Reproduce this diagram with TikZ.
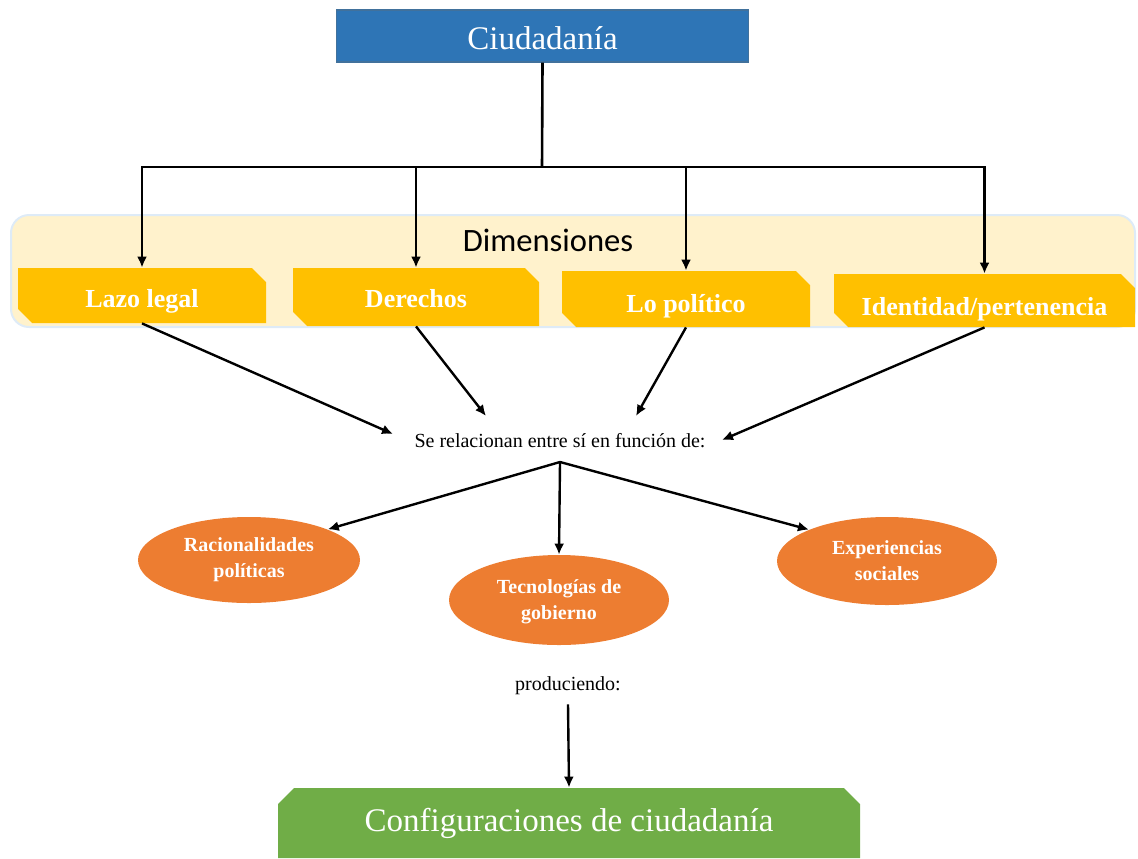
\documentclass[tikz,border=0pt]{standalone}
\usepackage{fontspec}
\setmainfont{Liberation Serif}
\newfontfamily\calib{Carlito}
\usetikzlibrary{shapes.misc,shapes.geometric,arrows.meta}
\definecolor{cblue}{HTML}{2E75B6}
\definecolor{cblueb}{HTML}{41719C}
\definecolor{cyel}{HTML}{FFC000}
\definecolor{cpale}{HTML}{FFF2CC}
\definecolor{cpaleb}{HTML}{DEEBF7}
\definecolor{corange}{HTML}{ED7D31}
\definecolor{cgreen}{HTML}{70AD47}
\begin{document}
\begin{tikzpicture}[x=0.5pt,y=-0.5pt,
  arr/.style={-{Latex[length=5.5pt,width=5pt]}, line width=1.2pt},
  dimbox/.style={chamfered rectangle, chamfered rectangle corners={north east,south west},
    chamfered rectangle xsep=4pt, fill=cyel, text=white, inner sep=0pt, text depth=2pt,
    font=\bfseries\fontsize{13}{15}\selectfont},
  oval/.style={ellipse, fill=corange, text=white, inner sep=0pt, align=center,
    minimum width=111pt, minimum height=43pt, font=\bfseries\fontsize{10}{13}\selectfont},
  plain/.style={font=\fontsize{10}{12}\selectfont, inner sep=1pt}
]
\useasboundingbox (0,0) rectangle (1138,858);
% title
\node[fill=cblue, draw=cblueb, line width=0.6pt, minimum width=206pt, minimum height=26pt,
  inner sep=0pt, text=white, text height=13pt, text depth=0pt,
  font=\fontsize{16.5}{18}\selectfont] (ciud) at (542.5,36) {Ciudadanía};
% background band
\node[fill=cpale, draw=cpaleb, line width=1pt, rounded corners=9pt, minimum width=562pt,
  minimum height=56pt, inner sep=0pt] (band) at (573,271) {};
\node[font=\calib\fontsize{16.3}{18}\selectfont, inner sep=0pt] (dimlab) at (548,240) {Dimensiones};
% dimension boxes
\node[dimbox, text height=14pt, minimum width=124pt, minimum height=27.5pt] (lazo) at (142,295.5) {Lazo legal};
\node[dimbox, text height=12pt, minimum width=123pt, minimum height=29pt] (der) at (416,297) {Derechos};
\node[dimbox, text height=15pt, minimum width=124pt, minimum height=28pt] (pol) at (686,299) {Lo político};
\node[dimbox, text height=17pt, minimum width=150.5pt, minimum height=26.5pt] (ide) at (984.5,300.5) {Identidad/pertenencia};
% tree from title
\coordinate (hub) at (542,167);
\draw[line width=1.3pt] (ciud.south) -- (hub);
\draw[arr] (hub) -| (lazo.north);
\draw[arr] (hub) -| (der.north);
\draw[arr] (hub) -| (pol.north);
\draw[arr] (hub) -| (ide.north);
% relation text
\node[plain] (rel) at (560,441) {Se relacionan entre sí en función de:};
\coordinate (e1) at (393,434);
\coordinate (e2) at (486,416);
\coordinate (e3) at (636,416);
\coordinate (e4) at (722,440);
\draw[arr] (lazo.south) -- (e1);
\draw[arr] (der.south) -- (e2);
\draw[arr] (pol.south) -- (e3);
\draw[arr] (ide.south) -- (e4);
% ellipses
\node[oval] (rac) at (249,560) {Racionalidades\\políticas};
\node[oval, minimum width=110pt, minimum height=45pt, text depth=0pt] (tec) at (559,600) {Tecnologías de\\gobierno};
\node[oval, minimum width=110pt, minimum height=44pt] (exp) at (887,561) {Experiencias\\sociales};
\coordinate (rs) at (560,462);
\draw[arr] (rs) -- (rac.north east);
\draw[arr] (rs) -- (tec.north);
\draw[arr] (rs) -- (exp.north west);
% producing
\node[plain] (prod) at (568,686) {produciendo:};
\node[chamfered rectangle, chamfered rectangle corners={north east,north west},
  chamfered rectangle xsep=5pt, fill=cgreen, text=white, inner sep=0pt,
  minimum width=291pt, minimum height=35pt, font=\fontsize{16.5}{18}\selectfont] (conf) at (569,823) {Configuraciones de ciudadanía};
\draw[arr] ([yshift=-3.5pt]prod.south) -- (conf.north);
\end{tikzpicture}
\end{document}
